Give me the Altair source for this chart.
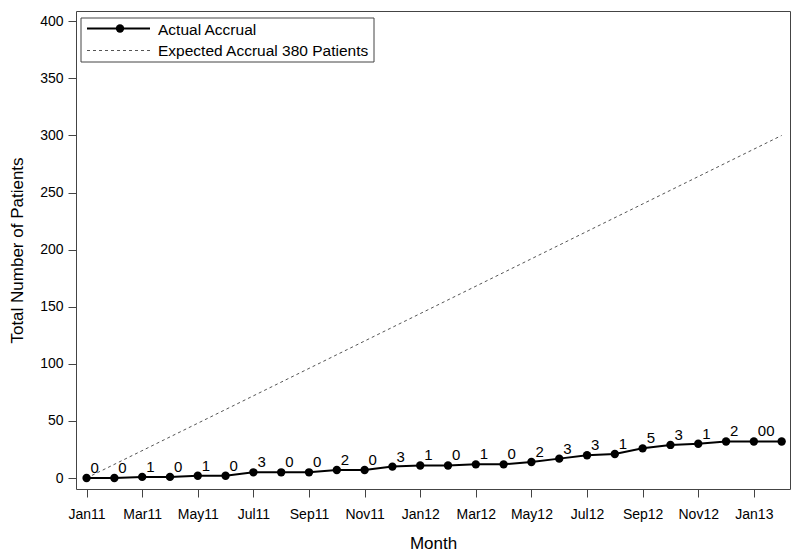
import altair as alt
import pandas as pd

months = ["Jan11", "Feb11", "Mar11", "Apr11", "May11", "Jun11", "Jul11", "Aug11",
          "Sep11", "Oct11", "Nov11", "Dec11", "Jan12", "Feb12", "Mar12", "Apr12",
          "May12", "Jun12", "Jul12", "Aug12", "Sep12", "Oct12", "Nov12", "Dec12",
          "Jan13", "Feb13"]
cumulative = [0, 0, 1, 1, 2, 2, 5, 5, 5, 7, 7, 10, 11, 11, 12, 12, 14, 17, 20, 21,
              26, 29, 30, 32, 32, 32]
point_labels = ["0", "0", "1", "0", "1", "0", "3", "0", "0", "2", "0", "3", "1", "0",
                "1", "0", "2", "3", "3", "1", "5", "3", "1", "2", "00", ""]
expected_idx = [0, 25]
expected_vals = [0, 300]
tick_labels = ["Jan11", "Mar11", "May11", "Jul11", "Sep11", "Nov11", "Jan12",
               "Mar12", "May12", "Jul12", "Sep12", "Nov12", "Jan13"]
y_ticks = [0, 50, 100, 150, 200, 250, 300, 350, 400]

FONT = "Liberation Sans"

actual = pd.DataFrame({"idx": list(range(len(months))), "month": months,
                       "total": cumulative, "label": point_labels})
expected = pd.DataFrame({"idx": expected_idx, "total": expected_vals})

label_expr = "[" + ",".join("'%s'" % t for t in tick_labels) + "][datum.value / 2]"

x_enc = alt.X("idx:Q",
              scale=alt.Scale(domain=[-0.38, 25.3], nice=False, zero=False),
              axis=alt.Axis(title="Month", values=list(range(0, 25, 2)),
                            labelExpr=label_expr))
y_enc = alt.Y("total:Q",
              scale=alt.Scale(domain=[-9.6, 409], nice=False, zero=False),
              axis=alt.Axis(title="Total Number of Patients", values=y_ticks))

exp_line = alt.Chart(expected).mark_line(
    color="#555555", strokeDash=[3, 3], strokeWidth=1
).encode(x=x_enc, y=y_enc)

act_line = alt.Chart(actual).mark_line(
    color="black", strokeWidth=2
).encode(x=x_enc, y=y_enc)

act_pts = alt.Chart(actual).mark_point(
    filled=True, color="black", size=70, opacity=1, shape="circle"
).encode(x=x_enc, y=y_enc)

act_text = alt.Chart(actual).mark_text(
    align="left", baseline="alphabetic", dx=4, dy=-5, fontSize=15, font=FONT,
    color="black"
).encode(x=x_enc, y=y_enc, text="label:N")

one = alt.Data(values=[{"k": 1}])

leg_box = alt.Chart(one).mark_rect(
    fill="white", stroke="#444444", strokeWidth=1
).encode(x=alt.value(5), x2=alt.value(298), y=alt.value(7), y2=alt.value(51))

leg_line1 = alt.Chart(one).mark_rule(color="black", strokeWidth=2).encode(
    x=alt.value(11), x2=alt.value(74), y=alt.value(17.5))
leg_pt1 = alt.Chart(one).mark_point(
    filled=True, color="black", size=70, opacity=1, shape="circle"
).encode(x=alt.value(44), y=alt.value(17.5))
leg_txt1 = alt.Chart(one).mark_text(
    align="left", baseline="middle", fontSize=15.5, font=FONT, color="black"
).encode(x=alt.value(82), y=alt.value(18.5), text=alt.value("Actual Accrual"))

leg_line2 = alt.Chart(one).mark_rule(
    color="#555555", strokeWidth=1, strokeDash=[3, 3]
).encode(x=alt.value(11), x2=alt.value(74), y=alt.value(39.5))
leg_txt2 = alt.Chart(one).mark_text(
    align="left", baseline="middle", fontSize=15.5, font=FONT, color="black"
).encode(x=alt.value(82), y=alt.value(40),
         text=alt.value("Expected Accrual 380 Patients"))

chart = alt.layer(
    exp_line, act_line, act_pts, act_text,
    leg_box, leg_line1, leg_pt1, leg_txt1, leg_line2, leg_txt2
).properties(
    width=714, height=478,
    autosize=alt.AutoSizeParams(type="none"),
    padding={"left": 68, "top": 3, "right": 2, "bottom": 66},
).configure(
    font=FONT
).configure_view(
    stroke="#444444", strokeWidth=1
).configure_axis(
    grid=False, domain=False, tickSize=8, tickColor="#444444", tickWidth=1,
    labelFont=FONT, labelFontSize=14, labelColor="black",
    titleFont=FONT, titleFontSize=17, titleFontWeight="normal", titleColor="black"
).configure_axisX(
    labelPadding=10, titlePadding=14
).configure_axisY(
    labelPadding=5, titlePadding=13
)

chart.save("out.html", embed_options={"renderer": "svg", "actions": False})
